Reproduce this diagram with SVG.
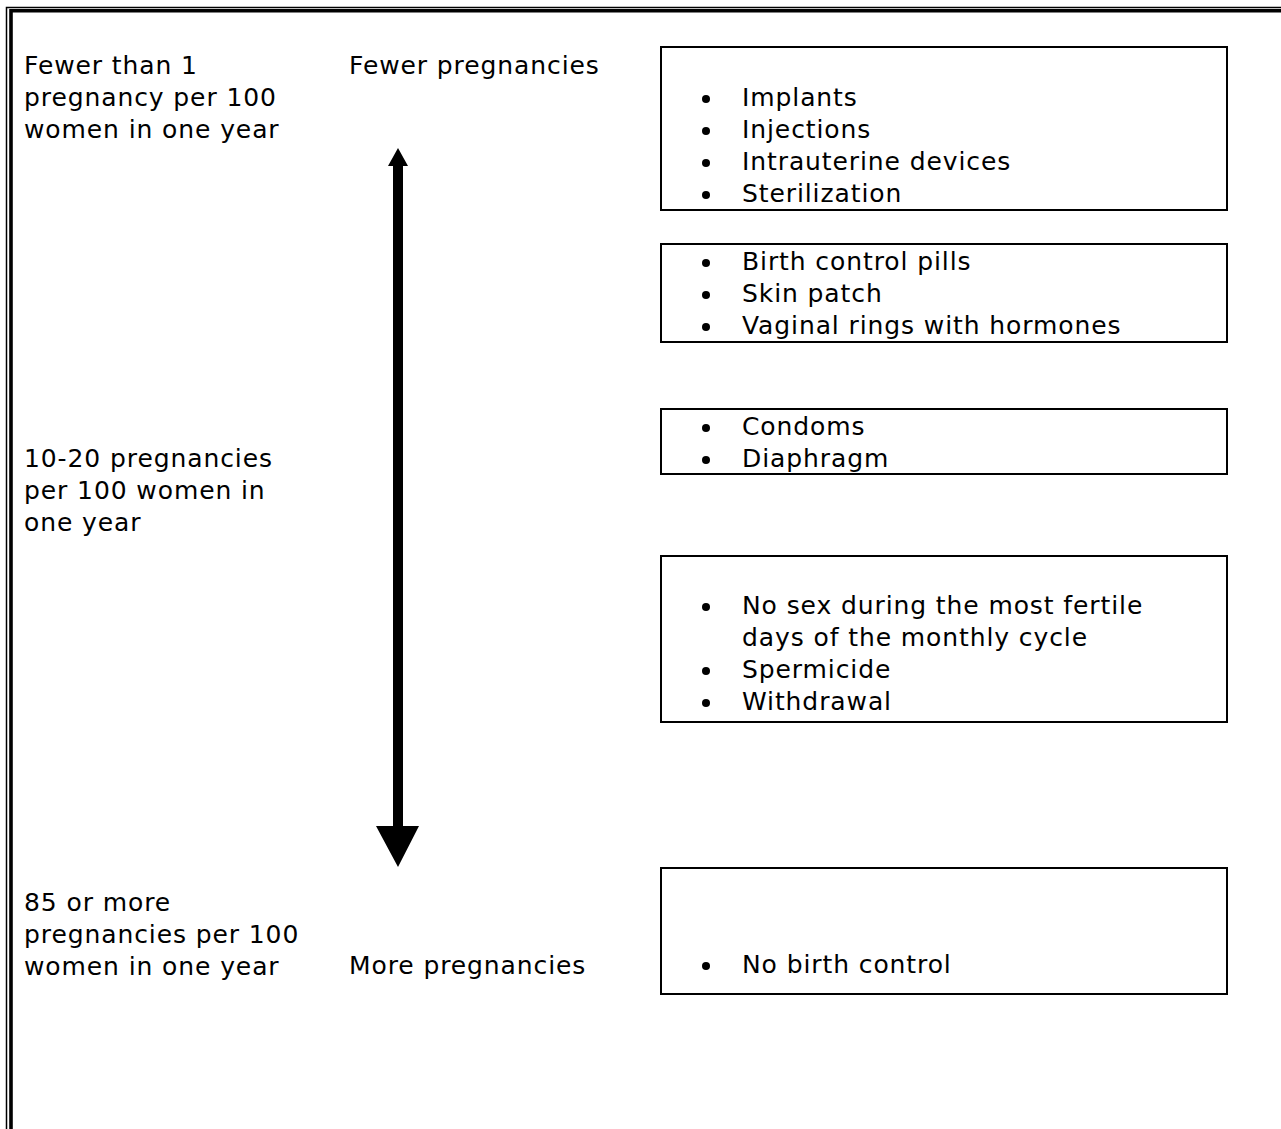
<svg xmlns="http://www.w3.org/2000/svg" width="1281" height="1129" viewBox="0 0 1281 1129">
<style>
text{font-family:"DejaVu Sans","Verdana",sans-serif;font-size:25px;letter-spacing:0.9px;fill:#000}
.box{fill:#fff;stroke:#000;stroke-width:2}
.dot{fill:#000}
</style>
<rect width="1281" height="1129" fill="#fff"/>
<g id="frame">
<path d="M6.5 1140 V7.5 H1290" fill="none" stroke="#000" stroke-width="1.5"/>
<path d="M11 1140 V10.8 H1290" fill="none" stroke="#000" stroke-width="3.6"/>
</g>
<g id="label-low">
<text x="24" y="74">Fewer than 1</text>
<text x="24" y="106">pregnancy per 100</text>
<text x="24" y="138">women in one year</text>
</g>
<g id="label-mid">
<text x="24" y="467">10-20 pregnancies</text>
<text x="24" y="499">per 100 women in</text>
<text x="24" y="531">one year</text>
</g>
<g id="label-high">
<text x="24" y="911">85 or more</text>
<text x="24" y="943">pregnancies per 100</text>
<text x="24" y="975">women in one year</text>
</g>
<g id="label-fewer"><text x="349" y="74">Fewer pregnancies</text></g>
<g id="label-more"><text x="349" y="974">More pregnancies</text></g>
<g id="connectors">
<polygon points="398,148 408,166 403,166 403,826 419,826 398,867 376,826 393,826 393,166 388,166" fill="#000"/>
</g>
<g id="box1">
<rect class="box" x="661" y="47" width="566" height="163"/>
<circle class="dot" cx="706" cy="99" r="4"/><text x="742" y="106">Implants</text>
<circle class="dot" cx="706" cy="131" r="4"/><text x="742" y="138">Injections</text>
<circle class="dot" cx="706" cy="163" r="4"/><text x="742" y="170">Intrauterine devices</text>
<circle class="dot" cx="706" cy="195" r="4"/><text x="742" y="202">Sterilization</text>
</g>
<g id="box2">
<rect class="box" x="661" y="244" width="566" height="98"/>
<circle class="dot" cx="706" cy="263" r="4"/><text x="742" y="270">Birth control pills</text>
<circle class="dot" cx="706" cy="295" r="4"/><text x="742" y="302">Skin patch</text>
<circle class="dot" cx="706" cy="327" r="4"/><text x="742" y="334">Vaginal rings with hormones</text>
</g>
<g id="box3">
<rect class="box" x="661" y="409" width="566" height="65"/>
<circle class="dot" cx="706" cy="428" r="4"/><text x="742" y="435">Condoms</text>
<circle class="dot" cx="706" cy="460" r="4"/><text x="742" y="467">Diaphragm</text>
</g>
<g id="box4">
<rect class="box" x="661" y="556" width="566" height="166"/>
<circle class="dot" cx="706" cy="607" r="4"/><text x="742" y="614">No sex during the most fertile</text>
<text x="742" y="646">days of the monthly cycle</text>
<circle class="dot" cx="706" cy="671" r="4"/><text x="742" y="678">Spermicide</text>
<circle class="dot" cx="706" cy="703" r="4"/><text x="742" y="710">Withdrawal</text>
</g>
<g id="box5">
<rect class="box" x="661" y="868" width="566" height="126"/>
<circle class="dot" cx="706" cy="966" r="4"/><text x="742" y="973">No birth control</text>
</g>
</svg>
